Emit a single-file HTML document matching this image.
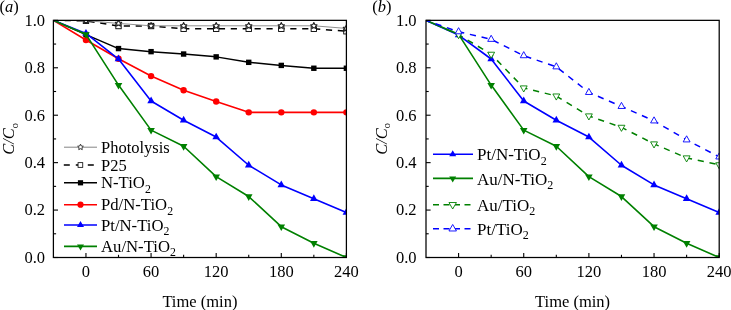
<!DOCTYPE html>
<html><head><meta charset="utf-8"><title>Chart</title><style>
html,body{margin:0;padding:0;background:#fff;width:731px;height:310px;overflow:hidden;font-family:"Liberation Serif",serif}
svg{display:block}
</style></head><body>
<svg width="731" height="310" viewBox="0 0 731 310">
<defs><clipPath id="ca"><rect x="53.4" y="20.35" width="293.0" height="237.15"/></clipPath></defs>
<g clip-path="url(#ca)">
<polyline points="53.40,20.35 85.96,20.82 118.51,26.04 151.07,26.04 183.62,28.75 216.18,28.75 248.73,28.75 281.29,28.75 313.84,28.75 346.40,31.26" fill="none" stroke="#000" stroke-width="1.5" stroke-linejoin="round" stroke-dasharray="6.2,5.7" stroke-dashoffset="0.6"/>
<rect x="83.26" y="18.12" width="5.4" height="5.4" fill="#fff" stroke="#000" stroke-width="0.9"/>
<rect x="115.81" y="23.34" width="5.4" height="5.4" fill="#fff" stroke="#000" stroke-width="0.9"/>
<rect x="148.37" y="23.34" width="5.4" height="5.4" fill="#fff" stroke="#000" stroke-width="0.9"/>
<rect x="180.92" y="26.05" width="5.4" height="5.4" fill="#fff" stroke="#000" stroke-width="0.9"/>
<rect x="213.48" y="26.05" width="5.4" height="5.4" fill="#fff" stroke="#000" stroke-width="0.9"/>
<rect x="246.03" y="26.05" width="5.4" height="5.4" fill="#fff" stroke="#000" stroke-width="0.9"/>
<rect x="278.59" y="26.05" width="5.4" height="5.4" fill="#fff" stroke="#000" stroke-width="0.9"/>
<rect x="311.14" y="26.05" width="5.4" height="5.4" fill="#fff" stroke="#000" stroke-width="0.9"/>
<rect x="343.70" y="28.56" width="5.4" height="5.4" fill="#fff" stroke="#000" stroke-width="0.9"/>
<polyline points="53.40,20.35 85.96,20.59 118.51,23.43 151.07,25.80 183.62,25.80 216.18,25.80 248.73,25.80 281.29,25.80 313.84,25.80 346.40,28.41" fill="none" stroke="#909090" stroke-width="1" stroke-linejoin="round"/>
<polygon points="85.96,17.29 86.93,19.25 89.09,19.57 87.52,21.10 87.90,23.26 85.96,22.24 84.02,23.26 84.39,21.10 82.82,19.57 84.99,19.25" fill="#fff" stroke="#222" stroke-width="1.15" stroke-linejoin="round"/>
<polygon points="118.51,20.13 119.48,22.10 121.65,22.41 120.08,23.94 120.45,26.10 118.51,25.08 116.57,26.10 116.94,23.94 115.37,22.41 117.54,22.10" fill="#fff" stroke="#222" stroke-width="1.15" stroke-linejoin="round"/>
<polygon points="151.07,22.50 152.04,24.47 154.21,24.78 152.64,26.31 153.01,28.47 151.07,27.45 149.13,28.47 149.50,26.31 147.93,24.78 150.10,24.47" fill="#fff" stroke="#222" stroke-width="1.15" stroke-linejoin="round"/>
<polygon points="183.62,22.50 184.59,24.47 186.76,24.78 185.19,26.31 185.56,28.47 183.62,27.45 181.68,28.47 182.05,26.31 180.48,24.78 182.65,24.47" fill="#fff" stroke="#222" stroke-width="1.15" stroke-linejoin="round"/>
<polygon points="216.18,22.50 217.15,24.47 219.32,24.78 217.75,26.31 218.12,28.47 216.18,27.45 214.24,28.47 214.61,26.31 213.04,24.78 215.21,24.47" fill="#fff" stroke="#222" stroke-width="1.15" stroke-linejoin="round"/>
<polygon points="248.73,22.50 249.70,24.47 251.87,24.78 250.30,26.31 250.67,28.47 248.73,27.45 246.79,28.47 247.16,26.31 245.59,24.78 247.76,24.47" fill="#fff" stroke="#222" stroke-width="1.15" stroke-linejoin="round"/>
<polygon points="281.29,22.50 282.26,24.47 284.43,24.78 282.86,26.31 283.23,28.47 281.29,27.45 279.35,28.47 279.72,26.31 278.15,24.78 280.32,24.47" fill="#fff" stroke="#222" stroke-width="1.15" stroke-linejoin="round"/>
<polygon points="313.84,22.50 314.81,24.47 316.98,24.78 315.41,26.31 315.78,28.47 313.84,27.45 311.90,28.47 312.28,26.31 310.71,24.78 312.87,24.47" fill="#fff" stroke="#222" stroke-width="1.15" stroke-linejoin="round"/>
<polygon points="346.40,25.11 347.37,27.08 349.54,27.39 347.97,28.92 348.34,31.08 346.40,30.06 344.46,31.08 344.83,28.92 343.26,27.39 345.43,27.08" fill="#fff" stroke="#222" stroke-width="1.15" stroke-linejoin="round"/>
<polyline points="53.40,20.35 85.96,34.58 118.51,48.57 151.07,51.65 183.62,54.03 216.18,56.87 248.73,62.33 281.29,65.41 313.84,68.25 346.40,68.25" fill="none" stroke="#000" stroke-width="1.5" stroke-linejoin="round"/>
<rect x="83.26" y="31.88" width="5.4" height="5.4" fill="#000" stroke="none" stroke-width="0"/>
<rect x="115.81" y="45.87" width="5.4" height="5.4" fill="#000" stroke="none" stroke-width="0"/>
<rect x="148.37" y="48.95" width="5.4" height="5.4" fill="#000" stroke="none" stroke-width="0"/>
<rect x="180.92" y="51.33" width="5.4" height="5.4" fill="#000" stroke="none" stroke-width="0"/>
<rect x="213.48" y="54.17" width="5.4" height="5.4" fill="#000" stroke="none" stroke-width="0"/>
<rect x="246.03" y="59.63" width="5.4" height="5.4" fill="#000" stroke="none" stroke-width="0"/>
<rect x="278.59" y="62.71" width="5.4" height="5.4" fill="#000" stroke="none" stroke-width="0"/>
<rect x="311.14" y="65.55" width="5.4" height="5.4" fill="#000" stroke="none" stroke-width="0"/>
<rect x="343.70" y="65.55" width="5.4" height="5.4" fill="#000" stroke="none" stroke-width="0"/>
<polyline points="53.40,20.35 85.96,40.03 118.51,58.77 151.07,76.08 183.62,90.31 216.18,101.46 248.73,112.36 281.29,112.36 313.84,112.36 346.40,112.36" fill="none" stroke="#ff0000" stroke-width="1.6" stroke-linejoin="round"/>
<circle cx="85.96" cy="40.03" r="3.2" fill="#ff0000"/>
<circle cx="118.51" cy="58.77" r="3.2" fill="#ff0000"/>
<circle cx="151.07" cy="76.08" r="3.2" fill="#ff0000"/>
<circle cx="183.62" cy="90.31" r="3.2" fill="#ff0000"/>
<circle cx="216.18" cy="101.46" r="3.2" fill="#ff0000"/>
<circle cx="248.73" cy="112.36" r="3.2" fill="#ff0000"/>
<circle cx="281.29" cy="112.36" r="3.2" fill="#ff0000"/>
<circle cx="313.84" cy="112.36" r="3.2" fill="#ff0000"/>
<circle cx="346.40" cy="112.36" r="3.2" fill="#ff0000"/>
<polyline points="53.40,20.35 85.96,33.39 118.51,59.01 151.07,100.98 183.62,120.19 216.18,137.03 248.73,165.25 281.29,184.93 313.84,198.69 346.40,212.44" fill="none" stroke="#0000ff" stroke-width="1.6" stroke-linejoin="round"/>
<polygon points="82.16,35.59 89.76,35.59 85.96,28.99" fill="#0000ff" stroke="none" stroke-width="0"/>
<polygon points="114.71,61.21 122.31,61.21 118.51,54.61" fill="#0000ff" stroke="none" stroke-width="0"/>
<polygon points="147.27,103.18 154.87,103.18 151.07,96.58" fill="#0000ff" stroke="none" stroke-width="0"/>
<polygon points="179.82,122.39 187.42,122.39 183.62,115.79" fill="#0000ff" stroke="none" stroke-width="0"/>
<polygon points="212.38,139.23 219.98,139.23 216.18,132.63" fill="#0000ff" stroke="none" stroke-width="0"/>
<polygon points="244.93,167.45 252.53,167.45 248.73,160.85" fill="#0000ff" stroke="none" stroke-width="0"/>
<polygon points="277.49,187.13 285.09,187.13 281.29,180.53" fill="#0000ff" stroke="none" stroke-width="0"/>
<polygon points="310.04,200.89 317.64,200.89 313.84,194.29" fill="#0000ff" stroke="none" stroke-width="0"/>
<polygon points="342.60,214.64 350.20,214.64 346.40,208.04" fill="#0000ff" stroke="none" stroke-width="0"/>
<polyline points="53.40,20.35 85.96,34.34 118.51,85.09 151.07,130.15 183.62,146.28 216.18,176.63 248.73,196.55 281.29,226.67 313.84,243.27 346.40,257.50" fill="none" stroke="#008000" stroke-width="1.6" stroke-linejoin="round"/>
<polygon points="82.16,32.14 89.76,32.14 85.96,38.74" fill="#008000" stroke="none" stroke-width="0"/>
<polygon points="114.71,82.89 122.31,82.89 118.51,89.49" fill="#008000" stroke="none" stroke-width="0"/>
<polygon points="147.27,127.95 154.87,127.95 151.07,134.55" fill="#008000" stroke="none" stroke-width="0"/>
<polygon points="179.82,144.08 187.42,144.08 183.62,150.68" fill="#008000" stroke="none" stroke-width="0"/>
<polygon points="212.38,174.43 219.98,174.43 216.18,181.03" fill="#008000" stroke="none" stroke-width="0"/>
<polygon points="244.93,194.35 252.53,194.35 248.73,200.95" fill="#008000" stroke="none" stroke-width="0"/>
<polygon points="277.49,224.47 285.09,224.47 281.29,231.07" fill="#008000" stroke="none" stroke-width="0"/>
<polygon points="310.04,241.07 317.64,241.07 313.84,247.67" fill="#008000" stroke="none" stroke-width="0"/>
<polygon points="342.60,255.30 350.20,255.30 346.40,261.90" fill="#008000" stroke="none" stroke-width="0"/>
</g>
<rect x="53.4" y="20.35" width="293.0" height="237.15" fill="none" stroke="#000" stroke-width="1.25"/>
<line x1="53.4" y1="257.50" x2="58.0" y2="257.50" stroke="#000" stroke-width="1.1"/>
<line x1="53.4" y1="233.78" x2="56.1" y2="233.78" stroke="#000" stroke-width="1.1"/>
<line x1="53.4" y1="210.07" x2="58.0" y2="210.07" stroke="#000" stroke-width="1.1"/>
<line x1="53.4" y1="186.36" x2="56.1" y2="186.36" stroke="#000" stroke-width="1.1"/>
<line x1="53.4" y1="162.64" x2="58.0" y2="162.64" stroke="#000" stroke-width="1.1"/>
<line x1="53.4" y1="138.93" x2="56.1" y2="138.93" stroke="#000" stroke-width="1.1"/>
<line x1="53.4" y1="115.21" x2="58.0" y2="115.21" stroke="#000" stroke-width="1.1"/>
<line x1="53.4" y1="91.50" x2="56.1" y2="91.50" stroke="#000" stroke-width="1.1"/>
<line x1="53.4" y1="67.78" x2="58.0" y2="67.78" stroke="#000" stroke-width="1.1"/>
<line x1="53.4" y1="44.06" x2="56.1" y2="44.06" stroke="#000" stroke-width="1.1"/>
<line x1="53.4" y1="20.35" x2="58.0" y2="20.35" stroke="#000" stroke-width="1.1"/>
<line x1="85.96" y1="257.5" x2="85.96" y2="252.9" stroke="#000" stroke-width="1.1"/>
<line x1="118.51" y1="257.5" x2="118.51" y2="254.8" stroke="#000" stroke-width="1.1"/>
<line x1="151.07" y1="257.5" x2="151.07" y2="252.9" stroke="#000" stroke-width="1.1"/>
<line x1="183.62" y1="257.5" x2="183.62" y2="254.8" stroke="#000" stroke-width="1.1"/>
<line x1="216.18" y1="257.5" x2="216.18" y2="252.9" stroke="#000" stroke-width="1.1"/>
<line x1="248.73" y1="257.5" x2="248.73" y2="254.8" stroke="#000" stroke-width="1.1"/>
<line x1="281.29" y1="257.5" x2="281.29" y2="252.9" stroke="#000" stroke-width="1.1"/>
<line x1="313.84" y1="257.5" x2="313.84" y2="254.8" stroke="#000" stroke-width="1.1"/>
<line x1="346.40" y1="257.5" x2="346.40" y2="252.9" stroke="#000" stroke-width="1.1"/>
<defs><clipPath id="cb"><rect x="426.0" y="20.35" width="293.20000000000005" height="237.15"/></clipPath></defs>
<g clip-path="url(#cb)">
<polyline points="426.00,20.35 458.58,35.05 491.16,59.01 523.73,100.98 556.31,120.19 588.89,137.03 621.47,165.25 654.04,184.93 686.62,198.69 719.20,212.44" fill="none" stroke="#0000ff" stroke-width="1.6" stroke-linejoin="round"/>
<polygon points="454.78,37.25 462.38,37.25 458.58,30.65" fill="#0000ff" stroke="none" stroke-width="0"/>
<polygon points="487.36,61.21 494.96,61.21 491.16,54.61" fill="#0000ff" stroke="none" stroke-width="0"/>
<polygon points="519.93,103.18 527.53,103.18 523.73,96.58" fill="#0000ff" stroke="none" stroke-width="0"/>
<polygon points="552.51,122.39 560.11,122.39 556.31,115.79" fill="#0000ff" stroke="none" stroke-width="0"/>
<polygon points="585.09,139.23 592.69,139.23 588.89,132.63" fill="#0000ff" stroke="none" stroke-width="0"/>
<polygon points="617.67,167.45 625.27,167.45 621.47,160.85" fill="#0000ff" stroke="none" stroke-width="0"/>
<polygon points="650.24,187.13 657.84,187.13 654.04,180.53" fill="#0000ff" stroke="none" stroke-width="0"/>
<polygon points="682.82,200.89 690.42,200.89 686.62,194.29" fill="#0000ff" stroke="none" stroke-width="0"/>
<polygon points="715.40,214.64 723.00,214.64 719.20,208.04" fill="#0000ff" stroke="none" stroke-width="0"/>
<polyline points="426.00,20.35 458.58,34.34 491.16,85.09 523.73,130.15 556.31,146.28 588.89,176.63 621.47,196.55 654.04,226.67 686.62,243.27 719.20,257.50" fill="none" stroke="#008000" stroke-width="1.6" stroke-linejoin="round"/>
<polygon points="454.78,32.14 462.38,32.14 458.58,38.74" fill="#008000" stroke="none" stroke-width="0"/>
<polygon points="487.36,82.89 494.96,82.89 491.16,89.49" fill="#008000" stroke="none" stroke-width="0"/>
<polygon points="519.93,127.95 527.53,127.95 523.73,134.55" fill="#008000" stroke="none" stroke-width="0"/>
<polygon points="552.51,144.08 560.11,144.08 556.31,150.68" fill="#008000" stroke="none" stroke-width="0"/>
<polygon points="585.09,174.43 592.69,174.43 588.89,181.03" fill="#008000" stroke="none" stroke-width="0"/>
<polygon points="617.67,194.35 625.27,194.35 621.47,200.95" fill="#008000" stroke="none" stroke-width="0"/>
<polygon points="650.24,224.47 657.84,224.47 654.04,231.07" fill="#008000" stroke="none" stroke-width="0"/>
<polygon points="682.82,241.07 690.42,241.07 686.62,247.67" fill="#008000" stroke="none" stroke-width="0"/>
<polygon points="715.40,255.30 723.00,255.30 719.20,261.90" fill="#008000" stroke="none" stroke-width="0"/>
<polyline points="426.00,20.35 458.58,34.58 491.16,54.26 523.73,87.94 556.31,96.00 588.89,115.92 621.47,127.30 654.04,143.91 686.62,157.90 719.20,164.77" fill="none" stroke="#008000" stroke-width="1.5" stroke-linejoin="round" stroke-dasharray="6.2,5.8" stroke-dashoffset="1.9"/>
<polygon points="455.13,32.55 462.03,32.55 458.58,38.65" fill="#fff" stroke="#008000" stroke-width="0.9"/>
<polygon points="487.71,52.23 494.61,52.23 491.16,58.33" fill="#fff" stroke="#008000" stroke-width="0.9"/>
<polygon points="520.28,85.90 527.18,85.90 523.73,92.00" fill="#fff" stroke="#008000" stroke-width="0.9"/>
<polygon points="552.86,93.97 559.76,93.97 556.31,100.07" fill="#fff" stroke="#008000" stroke-width="0.9"/>
<polygon points="585.44,113.89 592.34,113.89 588.89,119.99" fill="#fff" stroke="#008000" stroke-width="0.9"/>
<polygon points="618.02,125.27 624.92,125.27 621.47,131.37" fill="#fff" stroke="#008000" stroke-width="0.9"/>
<polygon points="650.59,141.87 657.49,141.87 654.04,147.97" fill="#fff" stroke="#008000" stroke-width="0.9"/>
<polygon points="683.17,155.86 690.07,155.86 686.62,161.96" fill="#fff" stroke="#008000" stroke-width="0.9"/>
<polygon points="715.75,162.74 722.65,162.74 719.20,168.84" fill="#fff" stroke="#008000" stroke-width="0.9"/>
<polyline points="426.00,20.35 458.58,31.73 491.16,39.32 523.73,55.69 556.31,66.83 588.89,92.44 621.47,106.44 654.04,120.90 686.62,139.87 719.20,156.95" fill="none" stroke="#0000ff" stroke-width="1.5" stroke-linejoin="round" stroke-dasharray="6.2,5.8" stroke-dashoffset="1.9"/>
<polygon points="455.13,33.77 462.03,33.77 458.58,27.67" fill="#fff" stroke="#0000ff" stroke-width="0.9"/>
<polygon points="487.71,41.36 494.61,41.36 491.16,35.26" fill="#fff" stroke="#0000ff" stroke-width="0.9"/>
<polygon points="520.28,57.72 527.18,57.72 523.73,51.62" fill="#fff" stroke="#0000ff" stroke-width="0.9"/>
<polygon points="552.86,68.86 559.76,68.86 556.31,62.76" fill="#fff" stroke="#0000ff" stroke-width="0.9"/>
<polygon points="585.44,94.48 592.34,94.48 588.89,88.38" fill="#fff" stroke="#0000ff" stroke-width="0.9"/>
<polygon points="618.02,108.47 624.92,108.47 621.47,102.37" fill="#fff" stroke="#0000ff" stroke-width="0.9"/>
<polygon points="650.59,122.93 657.49,122.93 654.04,116.83" fill="#fff" stroke="#0000ff" stroke-width="0.9"/>
<polygon points="683.17,141.91 690.07,141.91 686.62,135.81" fill="#fff" stroke="#0000ff" stroke-width="0.9"/>
<polygon points="715.75,158.98 722.65,158.98 719.20,152.88" fill="#fff" stroke="#0000ff" stroke-width="0.9"/>
</g>
<rect x="426.0" y="20.35" width="293.20000000000005" height="237.15" fill="none" stroke="#000" stroke-width="1.25"/>
<line x1="426.0" y1="257.50" x2="430.6" y2="257.50" stroke="#000" stroke-width="1.1"/>
<line x1="426.0" y1="233.78" x2="428.7" y2="233.78" stroke="#000" stroke-width="1.1"/>
<line x1="426.0" y1="210.07" x2="430.6" y2="210.07" stroke="#000" stroke-width="1.1"/>
<line x1="426.0" y1="186.36" x2="428.7" y2="186.36" stroke="#000" stroke-width="1.1"/>
<line x1="426.0" y1="162.64" x2="430.6" y2="162.64" stroke="#000" stroke-width="1.1"/>
<line x1="426.0" y1="138.93" x2="428.7" y2="138.93" stroke="#000" stroke-width="1.1"/>
<line x1="426.0" y1="115.21" x2="430.6" y2="115.21" stroke="#000" stroke-width="1.1"/>
<line x1="426.0" y1="91.50" x2="428.7" y2="91.50" stroke="#000" stroke-width="1.1"/>
<line x1="426.0" y1="67.78" x2="430.6" y2="67.78" stroke="#000" stroke-width="1.1"/>
<line x1="426.0" y1="44.06" x2="428.7" y2="44.06" stroke="#000" stroke-width="1.1"/>
<line x1="426.0" y1="20.35" x2="430.6" y2="20.35" stroke="#000" stroke-width="1.1"/>
<line x1="458.58" y1="257.5" x2="458.58" y2="252.9" stroke="#000" stroke-width="1.1"/>
<line x1="491.16" y1="257.5" x2="491.16" y2="254.8" stroke="#000" stroke-width="1.1"/>
<line x1="523.73" y1="257.5" x2="523.73" y2="252.9" stroke="#000" stroke-width="1.1"/>
<line x1="556.31" y1="257.5" x2="556.31" y2="254.8" stroke="#000" stroke-width="1.1"/>
<line x1="588.89" y1="257.5" x2="588.89" y2="252.9" stroke="#000" stroke-width="1.1"/>
<line x1="621.47" y1="257.5" x2="621.47" y2="254.8" stroke="#000" stroke-width="1.1"/>
<line x1="654.04" y1="257.5" x2="654.04" y2="252.9" stroke="#000" stroke-width="1.1"/>
<line x1="686.62" y1="257.5" x2="686.62" y2="254.8" stroke="#000" stroke-width="1.1"/>
<line x1="719.20" y1="257.5" x2="719.20" y2="252.9" stroke="#000" stroke-width="1.1"/>
<line x1="64" y1="147.2" x2="97" y2="147.2" stroke="#777" stroke-width="0.9"/>
<polygon points="80.50,144.20 81.38,145.99 83.35,146.27 81.93,147.66 82.26,149.63 80.50,148.70 78.74,149.63 79.07,147.66 77.65,146.27 79.62,145.99" fill="#fff" stroke="#222" stroke-width="0.9" stroke-linejoin="round"/>
<line x1="63.8" y1="165" x2="96.5" y2="165" stroke="#000" stroke-width="1.5" stroke-dasharray="6,6"/>
<rect x="78.05" y="162.65" width="4.7" height="4.7" fill="#fff" stroke="#000" stroke-width="0.8"/>
<line x1="64" y1="182.8" x2="97" y2="182.8" stroke="#000" stroke-width="1.5"/>
<rect x="77.90" y="180.20" width="5.2" height="5.2" fill="#000" stroke="none" stroke-width="0"/>
<line x1="64" y1="204.7" x2="97" y2="204.7" stroke="#ff0000" stroke-width="1.6"/>
<circle cx="80.50" cy="204.70" r="3.1" fill="#ff0000"/>
<line x1="64" y1="225" x2="97" y2="225" stroke="#0000ff" stroke-width="1.6"/>
<polygon points="77.00,227.00 84.00,227.00 80.50,221.00" fill="#0000ff" stroke="none" stroke-width="0"/>
<line x1="64" y1="246.4" x2="97" y2="246.4" stroke="#008000" stroke-width="1.6"/>
<polygon points="77.00,244.40 84.00,244.40 80.50,250.40" fill="#008000" stroke="none" stroke-width="0"/>
<line x1="433" y1="154.2" x2="473" y2="154.2" stroke="#0000ff" stroke-width="1.6"/>
<polygon points="449.20,156.20 456.20,156.20 452.70,150.20" fill="#0000ff" stroke="none" stroke-width="0"/>
<line x1="433" y1="178.4" x2="473" y2="178.4" stroke="#008000" stroke-width="1.6"/>
<polygon points="449.20,176.40 456.20,176.40 452.70,182.40" fill="#008000" stroke="none" stroke-width="0"/>
<line x1="433" y1="204.7" x2="473" y2="204.7" stroke="#008000" stroke-width="1.6" stroke-dasharray="6,4.5"/>
<polygon points="448.95,202.53 456.45,202.53 452.70,209.03" fill="#fff" stroke="#008000" stroke-width="0.9"/>
<line x1="433" y1="228.8" x2="473" y2="228.8" stroke="#0000ff" stroke-width="1.6" stroke-dasharray="6,4.5"/>
<polygon points="448.95,230.97 456.45,230.97 452.70,224.47" fill="#fff" stroke="#0000ff" stroke-width="0.9"/>
<defs><filter id="tb" x="-5%" y="-20%" width="110%" height="140%"><feGaussianBlur stdDeviation="0.01"/></filter></defs>
<g style="font-family:'Liberation Serif',serif;white-space:pre" filter="url(#tb)">
<text x="45.00" y="262.80" text-anchor="end" fill="#000"><tspan font-size="16.5">0.0</tspan></text>
<text x="45.00" y="215.37" text-anchor="end" fill="#000"><tspan font-size="16.5">0.2</tspan></text>
<text x="45.00" y="167.94" text-anchor="end" fill="#000"><tspan font-size="16.5">0.4</tspan></text>
<text x="45.00" y="120.51" text-anchor="end" fill="#000"><tspan font-size="16.5">0.6</tspan></text>
<text x="45.00" y="73.08" text-anchor="end" fill="#000"><tspan font-size="16.5">0.8</tspan></text>
<text x="45.00" y="25.65" text-anchor="end" fill="#000"><tspan font-size="16.5">1.0</tspan></text>
<text x="85.96" y="277.20" text-anchor="middle" fill="#000"><tspan font-size="16.5">0</tspan></text>
<text x="151.07" y="277.20" text-anchor="middle" fill="#000"><tspan font-size="16.5">60</tspan></text>
<text x="216.18" y="277.20" text-anchor="middle" fill="#000"><tspan font-size="16.5">120</tspan></text>
<text x="281.29" y="277.20" text-anchor="middle" fill="#000"><tspan font-size="16.5">180</tspan></text>
<text x="346.40" y="277.20" text-anchor="middle" fill="#000"><tspan font-size="16.5">240</tspan></text>
<text x="199.90" y="306.50" text-anchor="middle" fill="#000"><tspan font-size="16.5">Time (min)</tspan></text>
<text transform="translate(13.90,138.93) rotate(-90)" x="0" y="0" text-anchor="middle" fill="#000"><tspan font-size="16.5" font-style="italic">C</tspan><tspan font-size="16.5" font-style="italic">/</tspan><tspan font-size="16.5" font-style="italic">C</tspan><tspan font-size="10.5" dy="3.8">o</tspan></text>
<text x="416.60" y="262.80" text-anchor="end" fill="#000"><tspan font-size="16.5">0.0</tspan></text>
<text x="416.60" y="215.37" text-anchor="end" fill="#000"><tspan font-size="16.5">0.2</tspan></text>
<text x="416.60" y="167.94" text-anchor="end" fill="#000"><tspan font-size="16.5">0.4</tspan></text>
<text x="416.60" y="120.51" text-anchor="end" fill="#000"><tspan font-size="16.5">0.6</tspan></text>
<text x="416.60" y="73.08" text-anchor="end" fill="#000"><tspan font-size="16.5">0.8</tspan></text>
<text x="416.60" y="25.65" text-anchor="end" fill="#000"><tspan font-size="16.5">1.0</tspan></text>
<text x="458.58" y="277.20" text-anchor="middle" fill="#000"><tspan font-size="16.5">0</tspan></text>
<text x="523.73" y="277.20" text-anchor="middle" fill="#000"><tspan font-size="16.5">60</tspan></text>
<text x="588.89" y="277.20" text-anchor="middle" fill="#000"><tspan font-size="16.5">120</tspan></text>
<text x="654.04" y="277.20" text-anchor="middle" fill="#000"><tspan font-size="16.5">180</tspan></text>
<text x="719.20" y="277.20" text-anchor="middle" fill="#000"><tspan font-size="16.5">240</tspan></text>
<text x="572.60" y="306.50" text-anchor="middle" fill="#000"><tspan font-size="16.5">Time (min)</tspan></text>
<text transform="translate(386.50,138.93) rotate(-90)" x="0" y="0" text-anchor="middle" fill="#000"><tspan font-size="16.5" font-style="italic">C</tspan><tspan font-size="16.5" font-style="italic">/</tspan><tspan font-size="16.5" font-style="italic">C</tspan><tspan font-size="10.5" dy="3.8">o</tspan></text>
<text x="-0.40" y="11.60" fill="#000"><tspan font-size="16.5">(</tspan><tspan font-size="16.5" font-style="italic">a</tspan><tspan font-size="16.5">)</tspan></text>
<text x="372.20" y="11.50" fill="#000"><tspan font-size="16.5">(</tspan><tspan font-size="16.5" font-style="italic">b</tspan><tspan font-size="16.5">)</tspan></text>
<text x="101.00" y="152.70" fill="#000"><tspan font-size="16.5">Photolysis</tspan></text>
<text x="101.00" y="170.50" fill="#000"><tspan font-size="16.5">P25</tspan></text>
<text x="101.00" y="188.30" fill="#000"><tspan font-size="16.7">N-TiO</tspan><tspan font-size="11.8" dy="4.3">2</tspan></text>
<text x="101.00" y="210.20" fill="#000"><tspan font-size="16.7">Pd/N-TiO</tspan><tspan font-size="11.8" dy="4.3">2</tspan></text>
<text x="101.00" y="230.50" fill="#000"><tspan font-size="16.7">Pt/N-TiO</tspan><tspan font-size="11.8" dy="4.3">2</tspan></text>
<text x="101.00" y="251.90" fill="#000"><tspan font-size="16.7">Au/N-TiO</tspan><tspan font-size="11.8" dy="4.3">2</tspan></text>
<text x="477.00" y="160.40" fill="#000"><tspan font-size="17">Pt/N-TiO</tspan><tspan font-size="12" dy="4.3">2</tspan></text>
<text x="477.00" y="184.60" fill="#000"><tspan font-size="17">Au/N-TiO</tspan><tspan font-size="12" dy="4.3">2</tspan></text>
<text x="477.00" y="210.90" fill="#000"><tspan font-size="17">Au/TiO</tspan><tspan font-size="12" dy="4.3">2</tspan></text>
<text x="477.00" y="235.00" fill="#000"><tspan font-size="17">Pt/TiO</tspan><tspan font-size="12" dy="4.3">2</tspan></text>
</g>
</svg>
</body></html>
